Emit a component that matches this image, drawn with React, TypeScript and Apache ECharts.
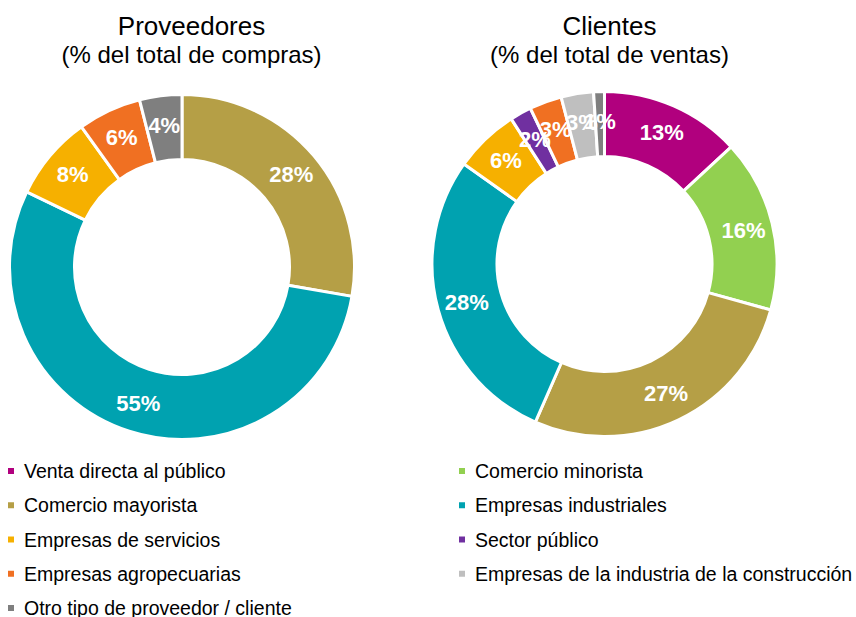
import React, { useEffect, useRef } from 'react';
import * as echarts from 'echarts';

const categories = [
  'Venta directa al público',
  'Comercio minorista',
  'Comercio mayorista',
  'Empresas industriales',
  'Empresas de servicios',
  'Sector público',
  'Empresas agropecuarias',
  'Empresas de la industria de la construcción',
  'Otro tipo de proveedor / cliente',
];
const categoryColors = ['#B1007E', '#92D050', '#B59F46', '#00A2B0', '#F6B000', '#7030A0', '#F07022', '#BFBFBF', '#7F7F7F'];

const proveedoresNames = [
  'Comercio mayorista',
  'Empresas industriales',
  'Empresas de servicios',
  'Empresas agropecuarias',
  'Otro tipo de proveedor / cliente',
];
const proveedoresValues = [28, 55, 8, 6, 4];

const clientesNames = categories;
const clientesValues = [13, 16, 27, 28, 6, 2, 3, 3, 1];

const legendLeftNames = [categories[0], categories[2], categories[4], categories[6], categories[8]];
const legendRightNames = [categories[1], categories[3], categories[5], categories[7]];

const titles = [
  { text: 'Proveedores', sub: '(% del total de compras)' },
  { text: 'Clientes', sub: '(% del total de ventas)' },
];

const FONT = '"Liberation Sans", Arial, sans-serif';

function colorOf(name: string) {
  return categoryColors[categories.indexOf(name)];
}

export default function App() {
  const ref = useRef<HTMLDivElement>(null);
  useEffect(() => {
    if (!ref.current) return;
    const chart = echarts.init(ref.current, null, { renderer: 'svg' });
    const pieCommon = {
      type: 'pie',
      startAngle: 90,
      clockwise: true,
      silent: true,
      avoidLabelOverlap: false,
      radius: [107.5, 172.5],
      itemStyle: { borderColor: '#ffffff', borderWidth: 3 },
      label: {
        show: true,
        position: 'inside',
        formatter: '{c}%',
        color: '#ffffff',
        fontFamily: FONT,
        fontWeight: 'bold',
        fontSize: 22,
      },
      labelLayout: { hideOverlap: false },
      labelLine: { show: false },
      emphasis: { disabled: true },
    };
    const legendCommon = {
      orient: 'vertical',
      padding: 0,
      height: 200,
      itemWidth: 12,
      itemHeight: 8,
      itemGap: 14.25,
      icon: 'path://M0,0L8,0L8,8L0,8Z M12,4L12,4',
      selectedMode: false,
      textStyle: { color: '#000000', fontSize: 19.5, fontFamily: FONT, lineHeight: 20 },
    };
    chart.setOption({
      animation: false,
      backgroundColor: '#ffffff',
      title: [
        {
          text: titles[0].text,
          subtext: titles[0].sub,
          left: 191.5,
          top: 13,
          padding: 0,
          itemGap: 3,
          textAlign: 'center',
          textStyle: { color: '#000000', fontSize: 26, fontWeight: 'normal', fontFamily: FONT },
          subtextStyle: { color: '#000000', fontSize: 24, fontFamily: FONT },
        },
        {
          text: titles[1].text,
          subtext: titles[1].sub,
          left: 609.5,
          top: 13,
          padding: 0,
          itemGap: 3,
          textAlign: 'center',
          textStyle: { color: '#000000', fontSize: 26, fontWeight: 'normal', fontFamily: FONT },
          subtextStyle: { color: '#000000', fontSize: 24, fontFamily: FONT },
        },
      ],
      legend: [
        { ...legendCommon, left: 6, top: 461, data: legendLeftNames },
        { ...legendCommon, left: 457, top: 461, data: legendRightNames },
      ],
      series: [
        {
          ...pieCommon,
          name: 'Proveedores',
          center: [182, 267],
          data: proveedoresNames.map((n, i) => ({ name: n, value: proveedoresValues[i], itemStyle: { color: colorOf(n) } })),
        },
        {
          ...pieCommon,
          name: 'Clientes',
          center: [604.5, 264],
          data: clientesNames.map((n, i) => ({ name: n, value: clientesValues[i], itemStyle: { color: colorOf(n) } })),
        },
      ],
    });
    return () => chart.dispose();
  }, []);
  return (
    <div
      ref={ref}
      style={{ position: 'fixed', left: 0, top: 0, width: 856, height: 617, background: '#fff' }}
    />
  );
}
